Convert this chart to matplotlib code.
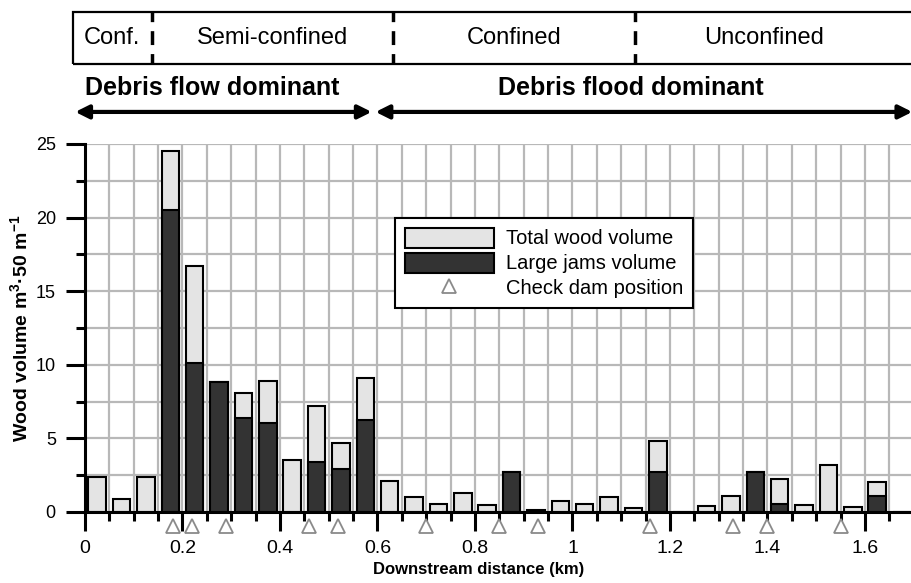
import numpy as np
import matplotlib.pyplot as plt
from matplotlib.patches import Rectangle
from matplotlib.transforms import blended_transform_factory

plt.rcParams['font.family'] = ['Liberation Sans', 'DejaVu Sans']
plt.rcParams['mathtext.fontset'] = 'custom'
plt.rcParams['mathtext.rm'] = 'Liberation Sans'
plt.rcParams['mathtext.bf'] = 'Liberation Sans:bold'

# 50 m segments, start of each segment (km)
seg_start = [0.00, 0.05, 0.10, 0.15, 0.20, 0.25, 0.30, 0.35, 0.40, 0.45,
             0.50, 0.55, 0.60, 0.65, 0.70, 0.75, 0.80, 0.85, 0.90, 0.95,
             1.00, 1.05, 1.10, 1.15, 1.20, 1.25, 1.30, 1.35, 1.40, 1.45,
             1.50, 1.55, 1.60, 1.65]
total_wood = [2.35, 0.9, 2.35, 24.5, 16.7, 8.8, 8.1, 8.9, 3.5, 7.2,
              4.7, 9.1, 2.1, 1.0, 0.55, 1.3, 0.5, 2.75, 0.15, 0.75,
              0.55, 1.0, 0.25, 4.85, 0.0, 0.4, 1.1, 2.75, 2.25, 0.5,
              3.2, 0.35, 2.05, 0.0]
large_jams = [0, 0, 0, 20.5, 10.1, 8.8, 6.4, 6.05, 0, 3.4,
              2.95, 6.25, 0, 0, 0, 0, 0, 2.75, 0, 0,
              0, 0, 0, 2.7, 0, 0, 0, 2.75, 0.55, 0,
              0, 0, 1.1, 0]
check_dams = [0.18, 0.22, 0.29, 0.46, 0.52, 0.70, 0.85, 0.93, 1.16, 1.33, 1.40, 1.55]

# valley confinement band
conf_bounds = [0.138, 0.632, 1.128]
conf_labels = ['Conf.', 'Semi-confined', 'Confined', 'Unconfined']
conf_label_x = [0.055, 0.385, 0.88, 1.393]
process_split = 0.59

xtick_vals = [0, 0.2, 0.4, 0.6, 0.8, 1.0, 1.2, 1.4, 1.6]
xtick_labels = ['0', '0.2', '0.4', '0.6', '0.8', '1', '1.2', '1.4', '1.6']

fig = plt.figure(figsize=(9.12, 5.83), dpi=100)
ax = fig.add_axes([85 / 912, 71 / 583, 828.75 / 912, 368 / 583])

seg_mid = np.array(seg_start) + 0.025
h_tot = ax.bar(seg_mid, total_wood, width=0.036, color='#e4e4e4', edgecolor='black',
               linewidth=1.5, zorder=2, label='Total wood volume')
jam = np.array(large_jams, dtype=float)
m = jam > 0
h_jam = ax.bar(seg_mid[m], jam[m], width=0.036, color='#333333', edgecolor='black',
               linewidth=1.5, zorder=3, label='Large jams volume')
h_dam, = ax.plot(check_dams, [-0.95] * len(check_dams), '^', ms=10, mfc='white',
                 mec='#8a8a8a', mew=1.3, clip_on=False, zorder=5, linestyle='none',
                 label='Check dam position')

ax.set_xlim(0, 1.7)
ax.set_ylim(0, 25)
ax.set_xticks(xtick_vals)
ax.set_xticklabels(xtick_labels)
ax.set_xticks(np.arange(0, 1.71, 0.05), minor=True)
ax.set_yticks([0, 5, 10, 15, 20, 25])
ax.set_yticks(np.arange(0, 25.1, 2.5), minor=True)
ax.grid(which='both', color='#b8b8b8', linewidth=1.6)
ax.set_axisbelow(True)

for s in ['top', 'right']:
    ax.spines[s].set_visible(False)
for s in ['left', 'bottom']:
    ax.spines[s].set_linewidth(2.2)

ax.tick_params(axis='x', which='major', length=14, width=2.2, labelsize=14, pad=6)
ax.tick_params(axis='x', which='minor', length=6.5, width=2.2)
ax.tick_params(axis='y', which='major', length=14, width=2.2, labelsize=13, pad=7)
ax.tick_params(axis='y', which='minor', length=6.5, width=2.2)

ax.set_xlabel('Downstream distance (km)', fontsize=12, fontweight='bold')
ax.xaxis.set_label_coords((479 - 85) / 828.75, -0.137)
ax.set_ylabel(r'Wood volume m$^{\mathbf{3}}$·50 m$^{\mathbf{-1}}$', fontsize=14,
              fontweight='bold')
ax.yaxis.set_label_coords(-0.064, 0.5)

leg = ax.legend(handles=[h_tot, h_jam, h_dam], loc='upper left',
                bbox_to_anchor=(0.374, 0.80), borderaxespad=0,
                fontsize=14.5, frameon=True, fancybox=False, framealpha=1,
                handlelength=4.4, handleheight=1.15, labelspacing=0.2,
                borderpad=0.5, handletextpad=0.6)
leg.get_frame().set_edgecolor('black')
leg.get_frame().set_linewidth(1.5)

# top annotation band, x in data units, y in figure units
tr = blended_transform_factory(ax.transData, fig.transFigure)
band_bottom, band_top = 0.891, 0.979
fig.patches.append(Rectangle((-0.024, band_bottom), 1.8, band_top - band_bottom,
                             transform=tr, fill=False, edgecolor='black', linewidth=1.6))
for b in conf_bounds:
    fig.lines.append(plt.Line2D([b, b], [band_bottom, band_top], transform=tr,
                                color='black', linewidth=2.5, linestyle=(1, (4, 2.6))))
for lab, xl in zip(conf_labels, conf_label_x):
    fig.text(xl, 0.935, lab, transform=tr, ha='center', va='center', fontsize=17)

arrow_y = 0.808
ax.annotate('', xy=(-0.02, arrow_y), xytext=(process_split - 0.002, arrow_y),
            xycoords=tr, textcoords=tr,
            arrowprops=dict(arrowstyle='<|-|>', lw=3, color='black',
                            mutation_scale=20, shrinkA=0, shrinkB=0))
ax.annotate('', xy=(process_split + 0.006, arrow_y), xytext=(1.697, arrow_y),
            xycoords=tr, textcoords=tr,
            arrowprops=dict(arrowstyle='<|-|>', lw=3, color='black',
                            mutation_scale=20, shrinkA=0, shrinkB=0))
fig.text(0.0, 0.837, 'Debris flow dominant', transform=tr, ha='left', va='baseline',
         fontsize=18, fontweight='bold')
fig.text(1.12, 0.837, 'Debris flood dominant', transform=tr, ha='center', va='baseline',
         fontsize=18, fontweight='bold')

fig.savefig('out.png', dpi=100)
